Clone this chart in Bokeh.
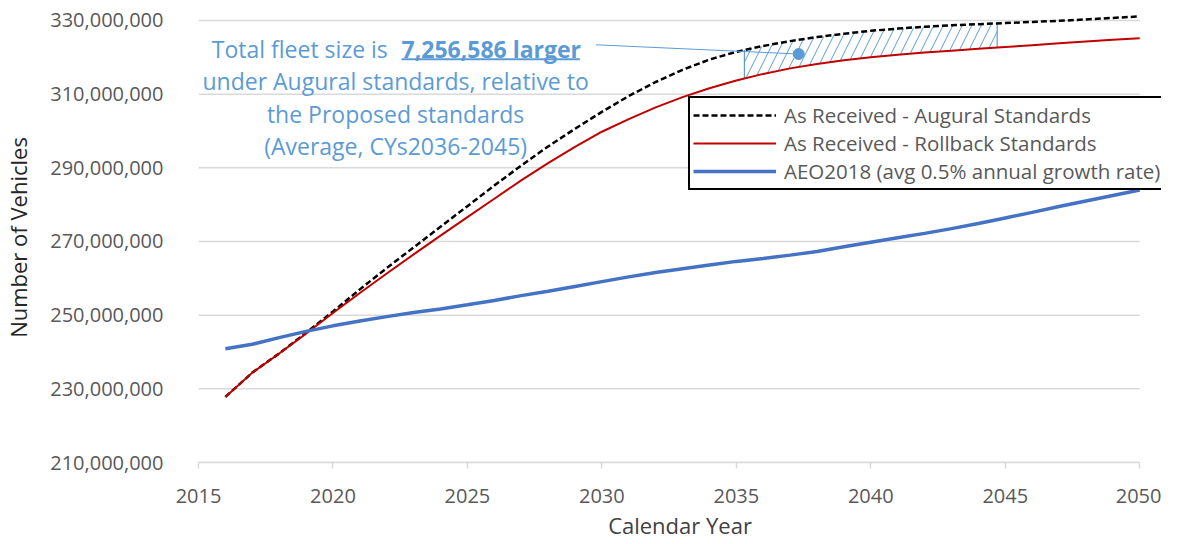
import numpy as np
from jinja2 import Template
from bokeh.plotting import figure
from bokeh.models import (Range1d, FixedTicker, NumeralTickFormatter, Legend, LegendItem)
from bokeh.core.properties import value
from bokeh.core.templates import FILE
from bokeh.embed import file_html
from bokeh.resources import INLINE

# ---------------- data (millions of vehicles) ----------------
years = list(range(2016, 2051))
augural = [227.8, 234.4, 239.6, 245.2, 251.0, 257.0, 262.8, 268.4, 274.0, 279.6,
           285.2, 290.6, 295.8, 300.6, 305.2, 309.5, 313.3, 316.6, 319.4, 321.5,
           323.1, 324.4, 325.5, 326.4, 327.2, 327.8, 328.3, 328.7, 329.0, 329.3,
           329.6, 329.9, 330.3, 330.7, 331.1]
rollback = [227.8, 234.4, 239.6, 245.0, 250.6, 256.0, 261.3, 266.5, 271.6, 276.6,
            281.6, 286.6, 291.3, 295.7, 299.8, 303.2, 306.4, 309.2, 311.6, 313.7,
            315.5, 317.0, 318.2, 319.2, 320.0, 320.7, 321.3, 321.8, 322.3, 322.8,
            323.3, 323.8, 324.3, 324.8, 325.2]
aeo2018 = [240.9, 242.1, 243.9, 245.6, 247.1, 248.4, 249.6, 250.7, 251.7, 252.8,
           254.0, 255.3, 256.5, 257.8, 259.1, 260.4, 261.6, 262.6, 263.6, 264.6,
           265.4, 266.3, 267.3, 268.6, 269.8, 271.0, 272.2, 273.5, 274.9, 276.4,
           277.9, 279.5, 281.0, 282.5, 284.0]
series_names = ["As Received - Augural Standards",
                "As Received - Rollback Standards",
                "AEO2018 (avg 0.5% annual growth rate)"]
y_ticks = [210, 230, 250, 270, 290, 310, 330]
x_ticks = [2015, 2020, 2025, 2030, 2035, 2040, 2045, 2050]
hatch_years = (2035.3, 2044.7)

M = 1e6
aug = [v * M for v in augural]
rol = [v * M for v in rollback]
aeo = [v * M for v in aeo2018]

FONT = "Open Sans"
BLUE_TXT = "#5B9BD5"
GRID = "#D9D9D9"

p = figure(width=1161, height=543, output_backend="svg", toolbar_location=None,
           x_range=Range1d(2015, 2050.81), y_range=Range1d(210 * M, 332.17 * M),
           min_border_left=189, min_border_right=0, min_border_top=12,
           min_border_bottom=81)
p.outline_line_color = None
p.background_fill_color = "white"
p.border_fill_color = "white"

# grid (drawn only across the data span 2015-2050)
p.xgrid.visible = False
p.ygrid.visible = False
yt = [t * M for t in y_ticks]
p.segment(x0=[x_ticks[0]] * len(yt), x1=[x_ticks[-1]] * len(yt), y0=yt, y1=yt,
          line_color=GRID, line_width=1.5, level="underlay")

# y axis
p.yaxis.ticker = FixedTicker(ticks=yt)
p.yaxis.formatter = NumeralTickFormatter(format="0,0")
p.yaxis.axis_line_color = None
p.yaxis.major_tick_line_color = None
p.yaxis.minor_tick_line_color = None
p.yaxis.major_label_standoff = 29
p.yaxis.major_label_text_font = FONT
p.yaxis.major_label_text_font_size = "20px"
p.yaxis.major_label_text_color = "#595959"
p.yaxis.axis_label = "Number of Vehicles"
p.yaxis.axis_label_text_font = FONT
p.yaxis.axis_label_text_font_style = "normal"
p.yaxis.axis_label_text_font_size = "22px"
p.yaxis.axis_label_text_color = "#262626"
p.yaxis.axis_label_standoff = 14

# x axis
p.xaxis.ticker = FixedTicker(ticks=x_ticks)
p.xaxis.bounds = (x_ticks[0], x_ticks[-1])
p.xaxis.axis_line_color = GRID
p.xaxis.axis_line_width = 1.5
p.xaxis.major_tick_line_color = GRID
p.xaxis.major_tick_line_width = 1.5
p.xaxis.major_tick_out = 6
p.xaxis.major_tick_in = 0
p.xaxis.minor_tick_line_color = None
p.xaxis.major_label_standoff = 20
p.xaxis.major_label_text_font = FONT
p.xaxis.major_label_text_font_size = "20px"
p.xaxis.major_label_text_color = "#595959"
p.xaxis.axis_label = "Calendar Year"
p.xaxis.axis_label_text_font = FONT
p.xaxis.axis_label_text_font_style = "normal"
p.xaxis.axis_label_text_font_size = "22px"
p.xaxis.axis_label_text_color = "#404040"
p.xaxis.axis_label_standoff = 4

# hatched difference region
hx = [hatch_years[0]] + [y for y in years if hatch_years[0] < y < hatch_years[1]] + [hatch_years[1]]
htop = np.interp(hx, years, aug)
hbot = np.interp(hx, years, rol)
p.varea(x=hx, y1=hbot, y2=htop, fill_color=None, fill_alpha=0,
        hatch_pattern="/", hatch_color=BLUE_TXT, hatch_scale=19, hatch_weight=1)
p.segment(x0=[hx[0], hx[-1]], y0=[hbot[0], hbot[-1]], x1=[hx[0], hx[-1]], y1=[htop[0], htop[-1]],
          line_color=BLUE_TXT, line_width=1.2)

# series
r_aug = p.line(years, aug, line_color="black", line_width=2.5, line_dash="6 3")
r_rol = p.line(years, rol, line_color="#C00000", line_width=2)
r_aeo = p.line(years, aeo, line_color="#4472C4", line_width=3.5)

# annotation
p.segment(x0=[2029.78], y0=[323.4 * M], x1=[2037.32], y1=[320.9 * M],
          line_color=BLUE_TXT, line_width=1)
p.scatter([2037.32], [320.9 * M], size=11, fill_color=BLUE_TXT, line_color=BLUE_TXT)

p.text(x=[2022.04], y=[322.2 * M], text=["Total fleet size is"], text_align="right",
       text_baseline="middle", text_font=value(FONT), text_font_size=value("23px"),
       text_color=BLUE_TXT)
p.text(x=[2022.55], y=[322.2 * M], text=["7,256,586 larger"], text_align="left",
       text_baseline="middle", text_font=value(FONT), text_font_size=value("23px"),
       text_font_style="bold", text_color=BLUE_TXT)
p.segment(x0=[2022.55], y0=[319.5 * M], x1=[2029.18], y1=[319.5 * M],
          line_color=BLUE_TXT, line_width=2)
p.text(x=[2022.33] * 3, y=[313.5 * M, 304.6 * M, 295.9 * M],
       text=["under Augural standards, relative to", "the Proposed standards",
             "(Average, CYs2036-2045)"],
       text_align="center", text_baseline="middle", text_font=value(FONT),
       text_font_size=value("23px"), text_color=BLUE_TXT)

# legend
legend = Legend(items=[LegendItem(label=series_names[0], renderers=[r_aug]),
                       LegendItem(label=series_names[1], renderers=[r_rol]),
                       LegendItem(label=series_names[2], renderers=[r_aeo])],
                location=(490, 272))
legend.border_line_color = "black"
legend.border_line_alpha = 1
legend.border_line_width = 2
legend.background_fill_color = "white"
legend.background_fill_alpha = 1
legend.padding = 3
legend.margin = 0
legend.spacing = 0
legend.glyph_width = 83
legend.glyph_height = 20
legend.label_standoff = 8
legend.label_text_font = FONT
legend.label_text_font_size = "20.5px"
legend.label_text_color = "#595959"
p.add_layout(legend)

template = Template("""{% extends base %}
{% block postamble %}<style>html, body { overflow: hidden; }</style>{% endblock %}""")
html = file_html(p, INLINE, template=template, template_variables={"base": FILE})
open("out.html", "w").write(html)
